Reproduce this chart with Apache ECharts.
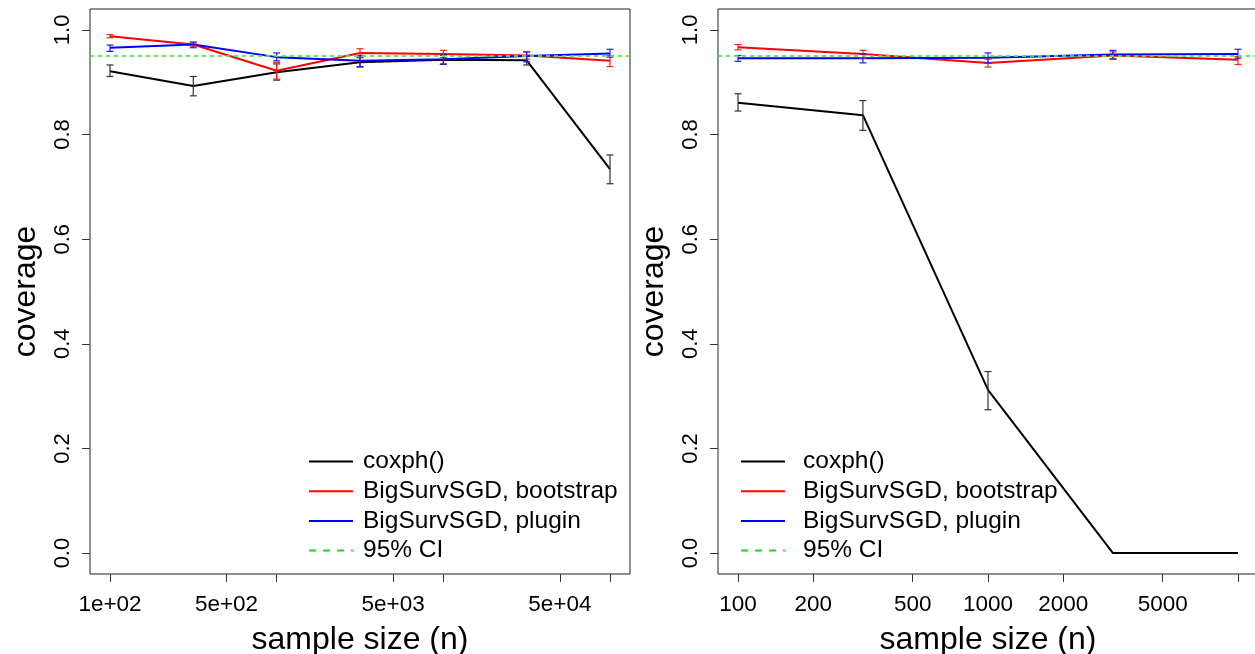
<!DOCTYPE html>
<html>
<head>
<meta charset="utf-8">
<script src="https://cdn.jsdelivr.net/npm/echarts@6/dist/echarts.min.js"></script>
<style>
  html, body { margin: 0; padding: 0; background: #fff; }
  #main { width: 1255px; height: 654px; }
</style>
</head>
<body>
<div id="main"></div>
<script>
// sample sizes (n)
var nLeft = [100, 316, 1000, 3162, 10000, 31623, 100000];
var nRight = [100, 316, 1000, 3162, 10000];

// left panel: coverage, lower and upper ends of the error bars
var coxLeft   = [0.921, 0.893, 0.919, 0.938, 0.943, 0.942, 0.734];
var coxLeftLo = [0.911, 0.874, 0.904, 0.929, 0.934, 0.933, 0.706];
var coxLeftHi = [0.933, 0.911, 0.935, 0.947, 0.952, 0.951, 0.761];
var bootLeft   = [0.988, 0.972, 0.922, 0.956, 0.954, 0.951, 0.941];
var bootLeftLo = [0.985, 0.969, 0.906, 0.948, 0.947, 0.944, 0.930];
var bootLeftHi = [0.991, 0.975, 0.938, 0.964, 0.961, 0.958, 0.951];
var plugLeft   = [0.966, 0.972, 0.948, 0.941, 0.944, 0.950, 0.955];
var plugLeftLo = [0.959, 0.966, 0.941, 0.930, 0.935, 0.939, 0.948];
var plugLeftHi = [0.971, 0.977, 0.956, 0.951, 0.952, 0.958, 0.963];

// right panel
var coxRight   = [0.861, 0.837, 0.312, 0, 0];
var coxRightLo = [0.845, 0.808, 0.274, 0, 0];
var coxRightHi = [0.878, 0.865, 0.347, 0, 0];
var bootRight   = [0.967, 0.954, 0.937, 0.951, 0.943];
var bootRightLo = [0.962, 0.946, 0.929, 0.945, 0.934];
var bootRightHi = [0.972, 0.961, 0.944, 0.958, 0.949];
var plugRight   = [0.946, 0.946, 0.947, 0.953, 0.954];
var plugRightLo = [0.940, 0.937, 0.937, 0.944, 0.946];
var plugRightHi = [0.951, 0.954, 0.956, 0.961, 0.963];

var nominal = 0.95;

// axis ticks
var leftTicks = [100, 500, 1000, 5000, 10000, 50000, 100000];
var leftLabels = [100, 500, 5000, 50000];
var rightTicks = [100, 200, 500, 1000, 2000, 5000, 10000];
var rightLabels = [100, 200, 500, 1000, 2000, 5000];
var yTicks = [0, 0.2, 0.4, 0.6, 0.8, 1.0];

var names = ['coxph()', 'BigSurvSGD, bootstrap', 'BigSurvSGD, plugin', '95% CI'];
var colors = ['#000000', '#ff0000', '#0000ff', '#00ee00'];

var FONT = 'Liberation Sans';
var myChart = echarts.init(document.getElementById('main'));

function lg(a) { return a.map(function (v) { return Math.log10(v); }); }

function sciLabel(v) {
  var e = Math.floor(v + 1e-9);
  var m = Math.round(Math.pow(10, v - e));
  return m + 'e+' + (e < 10 ? '0' + e : e);
}

function lineSeries(name, ns, ys, color, idx) {
  return {
    name: name, type: 'line', xAxisIndex: idx, yAxisIndex: idx,
    data: ns.map(function (n, i) { return [Math.log10(n), ys[i]]; }),
    symbol: 'none', lineStyle: { color: color, width: 2 }, itemStyle: { color: color },
    z: 3, silent: true, animation: false
  };
}

function errSeries(ns, lo, hi, color, idx) {
  return {
    type: 'custom', xAxisIndex: idx, yAxisIndex: idx, silent: true, z: 4, animation: false,
    data: ns.map(function (n, i) { return [Math.log10(n), lo[i], hi[i]]; }),
    renderItem: function (params, api) {
      var x = api.value(0);
      var a = api.coord([x, api.value(1)]);
      var b = api.coord([x, api.value(2)]);
      if (Math.abs(a[1] - b[1]) < 0.5) return null;
      var w = 3.5, st = { stroke: color, lineWidth: 1.2 };
      return { type: 'group', children: [
        { type: 'line', shape: { x1: a[0], y1: a[1], x2: b[0], y2: b[1] }, style: st },
        { type: 'line', shape: { x1: a[0] - w, y1: a[1], x2: a[0] + w, y2: a[1] }, style: st },
        { type: 'line', shape: { x1: b[0] - w, y1: b[1], x2: b[0] + w, y2: b[1] }, style: st }
      ] };
    }
  };
}

function refSeries(idx) {
  return {
    name: names[3], type: 'line', xAxisIndex: idx, yAxisIndex: idx, data: [],
    symbol: 'none', lineStyle: { color: '#00ee00', width: 1.6, type: [7, 7] },
    itemStyle: { color: '#00ee00' }, animation: false,
    markLine: {
      silent: true, symbol: 'none', label: { show: false },
      lineStyle: { color: '#44ee44', width: 1.8, type: [4, 4] },
      data: [{ yAxis: nominal }]
    }
  };
}

function xAxis(idx, min, max, ticks, labels, fmt) {
  return {
    type: 'value', gridIndex: idx, min: min, max: max,
    name: 'sample size (n)', nameLocation: 'middle', nameGap: 50,
    nameTextStyle: { fontFamily: FONT, fontSize: 32, color: '#000' },
    axisLine: { show: false, onZero: false },
    axisTick: { show: true, length: 8, lineStyle: { color: '#333' }, customValues: lg(ticks) },
    axisLabel: { fontFamily: FONT, fontSize: 22.5, color: '#000', margin: 19, customValues: lg(labels), formatter: fmt },
    splitLine: { show: false }
  };
}

function yAxis(idx) {
  return {
    type: 'value', gridIndex: idx, min: -0.04, max: 1.04,
    name: 'coverage', nameLocation: 'middle', nameGap: 48, nameRotate: 90,
    nameTextStyle: { fontFamily: FONT, fontSize: 32, color: '#000' },
    axisLine: { show: false, onZero: false },
    axisTick: { show: true, length: 8, lineStyle: { color: '#333' }, customValues: yTicks },
    axisLabel: { fontFamily: FONT, fontSize: 22, color: '#000', margin: 16, rotate: 90,
      customValues: yTicks, formatter: function (v) { return v.toFixed(1); } },
    splitLine: { show: false }
  };
}

function legend(left, gap) {
  return {
    data: names, left: left, top: 449, orient: 'vertical',
    itemWidth: 44, itemHeight: 14, itemGap: 4.7, padding: 0,
    selectedMode: false,
    itemStyle: { opacity: 0 },
    textStyle: { fontFamily: FONT, fontSize: 24.5, lineHeight: 24, color: '#000', padding: [0, 0, 0, gap] }
  };
}

var option = {
  backgroundColor: '#fff',
  animation: false,
  grid: [
    { left: 90, width: 540, top: 9, height: 565, show: true, borderColor: '#222', borderWidth: 1,
      containLabel: false, outerBoundsMode: 'none' },
    { left: 718, width: 540, top: 9, height: 565, show: true, borderColor: '#222', borderWidth: 1,
      containLabel: false, outerBoundsMode: 'none' }
  ],
  xAxis: [
    xAxis(0, 1.88, 5.12, leftTicks, leftLabels, sciLabel),
    xAxis(1, 1.92, 4.08, rightTicks, rightLabels, function (v) { return String(Math.round(Math.pow(10, v))); })
  ],
  yAxis: [yAxis(0), yAxis(1)],
  legend: [legend(308, 5), legend(740, 13)],
  series: [
    refSeries(0),
    lineSeries(names[0], nLeft, coxLeft, colors[0], 0),
    lineSeries(names[1], nLeft, bootLeft, colors[1], 0),
    lineSeries(names[2], nLeft, plugLeft, colors[2], 0),
    errSeries(nLeft, coxLeftLo, coxLeftHi, '#333', 0),
    errSeries(nLeft, bootLeftLo, bootLeftHi, '#ff2020', 0),
    errSeries(nLeft, plugLeftLo, plugLeftHi, '#2020ff', 0),

    refSeries(1),
    lineSeries(names[0], nRight, coxRight, colors[0], 1),
    lineSeries(names[1], nRight, bootRight, colors[1], 1),
    lineSeries(names[2], nRight, plugRight, colors[2], 1),
    errSeries(nRight, coxRightLo, coxRightHi, '#333', 1),
    errSeries(nRight, bootRightLo, bootRightHi, '#ff2020', 1),
    errSeries(nRight, plugRightLo, plugRightHi, '#2020ff', 1)
  ]
};

myChart.setOption(option);
</script>
</body>
</html>
